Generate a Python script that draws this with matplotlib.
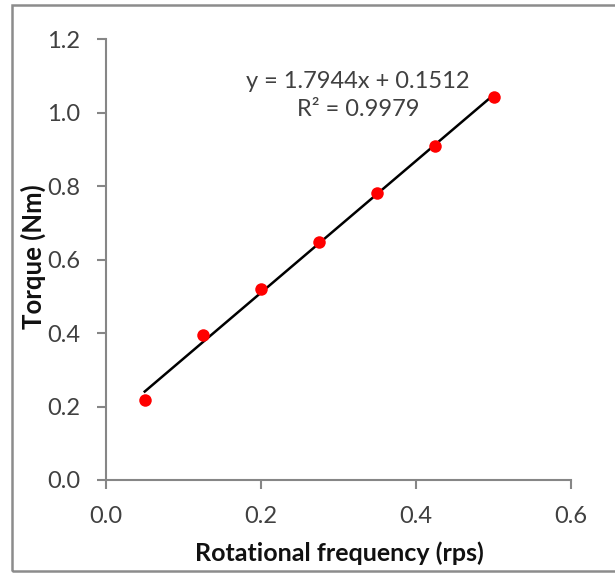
import matplotlib
matplotlib.use("Agg")
import matplotlib.pyplot as plt
from matplotlib.patches import Rectangle
import numpy as np

# Data
freq_rps = [0.05, 0.125, 0.2, 0.275, 0.35, 0.425, 0.5]
torque_nm = [0.217, 0.394, 0.519, 0.647, 0.782, 0.910, 1.042]
fit_slope = 1.7944
fit_intercept = 0.1512
fit_r2 = 0.9979
x_ticks = [0.0, 0.2, 0.4, 0.6]
y_ticks = [0.0, 0.2, 0.4, 0.6, 0.8, 1.0, 1.2]

plt.rcParams['font.family'] = ['Lato', 'DejaVu Sans']

W, H = 615, 573
fig = plt.figure(figsize=(W / 100, H / 100), dpi=100)

# outer chart border (cropped at right)
fig.patches.append(Rectangle((11.5 / W, 1 - 570.5 / H), 700 / W, (570.5 - 5) / H,
                             transform=fig.transFigure, fill=False,
                             edgecolor='#8c8c8c', linewidth=1.8))

ax = fig.add_axes([106 / W, 1 - 480 / H, (571 - 106) / W, (480 - 39.3) / H])

xs = np.array(freq_rps)
xl = np.array([xs.min(), xs.max()])
ax.plot(xl, fit_slope * xl + fit_intercept, color='black', linewidth=1.8, zorder=2)
ax.plot(freq_rps, torque_nm, 'o', color='#ff0000', markersize=9,
        markeredgewidth=0, zorder=3)

ax.set_xlim(0, 0.6)
ax.set_ylim(0, 1.2)
ax.set_xticks(x_ticks)
ax.set_yticks(y_ticks)
ax.set_xticklabels([f"{v:.1f}" for v in x_ticks])
ax.set_yticklabels([f"{v:.1f}" for v in y_ticks])

for s in ['top', 'right']:
    ax.spines[s].set_visible(False)
for s in ['left', 'bottom']:
    ax.spines[s].set_color('#868686')
    ax.spines[s].set_linewidth(1.5)
ax.tick_params(axis='both', colors='#868686', labelcolor='#404040',
               labelsize=17, length=6.5, width=1.5, direction='out')
ax.tick_params(axis='x', pad=12)
ax.tick_params(axis='y', pad=12)

fig.text(339 / W, 1 - 553 / H, 'Rotational frequency (rps)', ha='center',
         va='center', fontsize=18, fontweight='bold', color='#111111')
fig.text(33 / W, 1 - 257 / H, 'Torque (Nm)', ha='center', va='center',
         rotation=90, fontsize=18.5, fontweight='bold', color='#111111')

ax.text(0.325, 1.084, f"y = {fit_slope}x + {fit_intercept}", ha='center',
        va='center', fontsize=17, color='#404040')
ax.text(0.325, 1.008, f"R² = {fit_r2}", ha='center', va='center',
        fontsize=17, color='#404040')

fig.savefig('out.png', dpi=100)
